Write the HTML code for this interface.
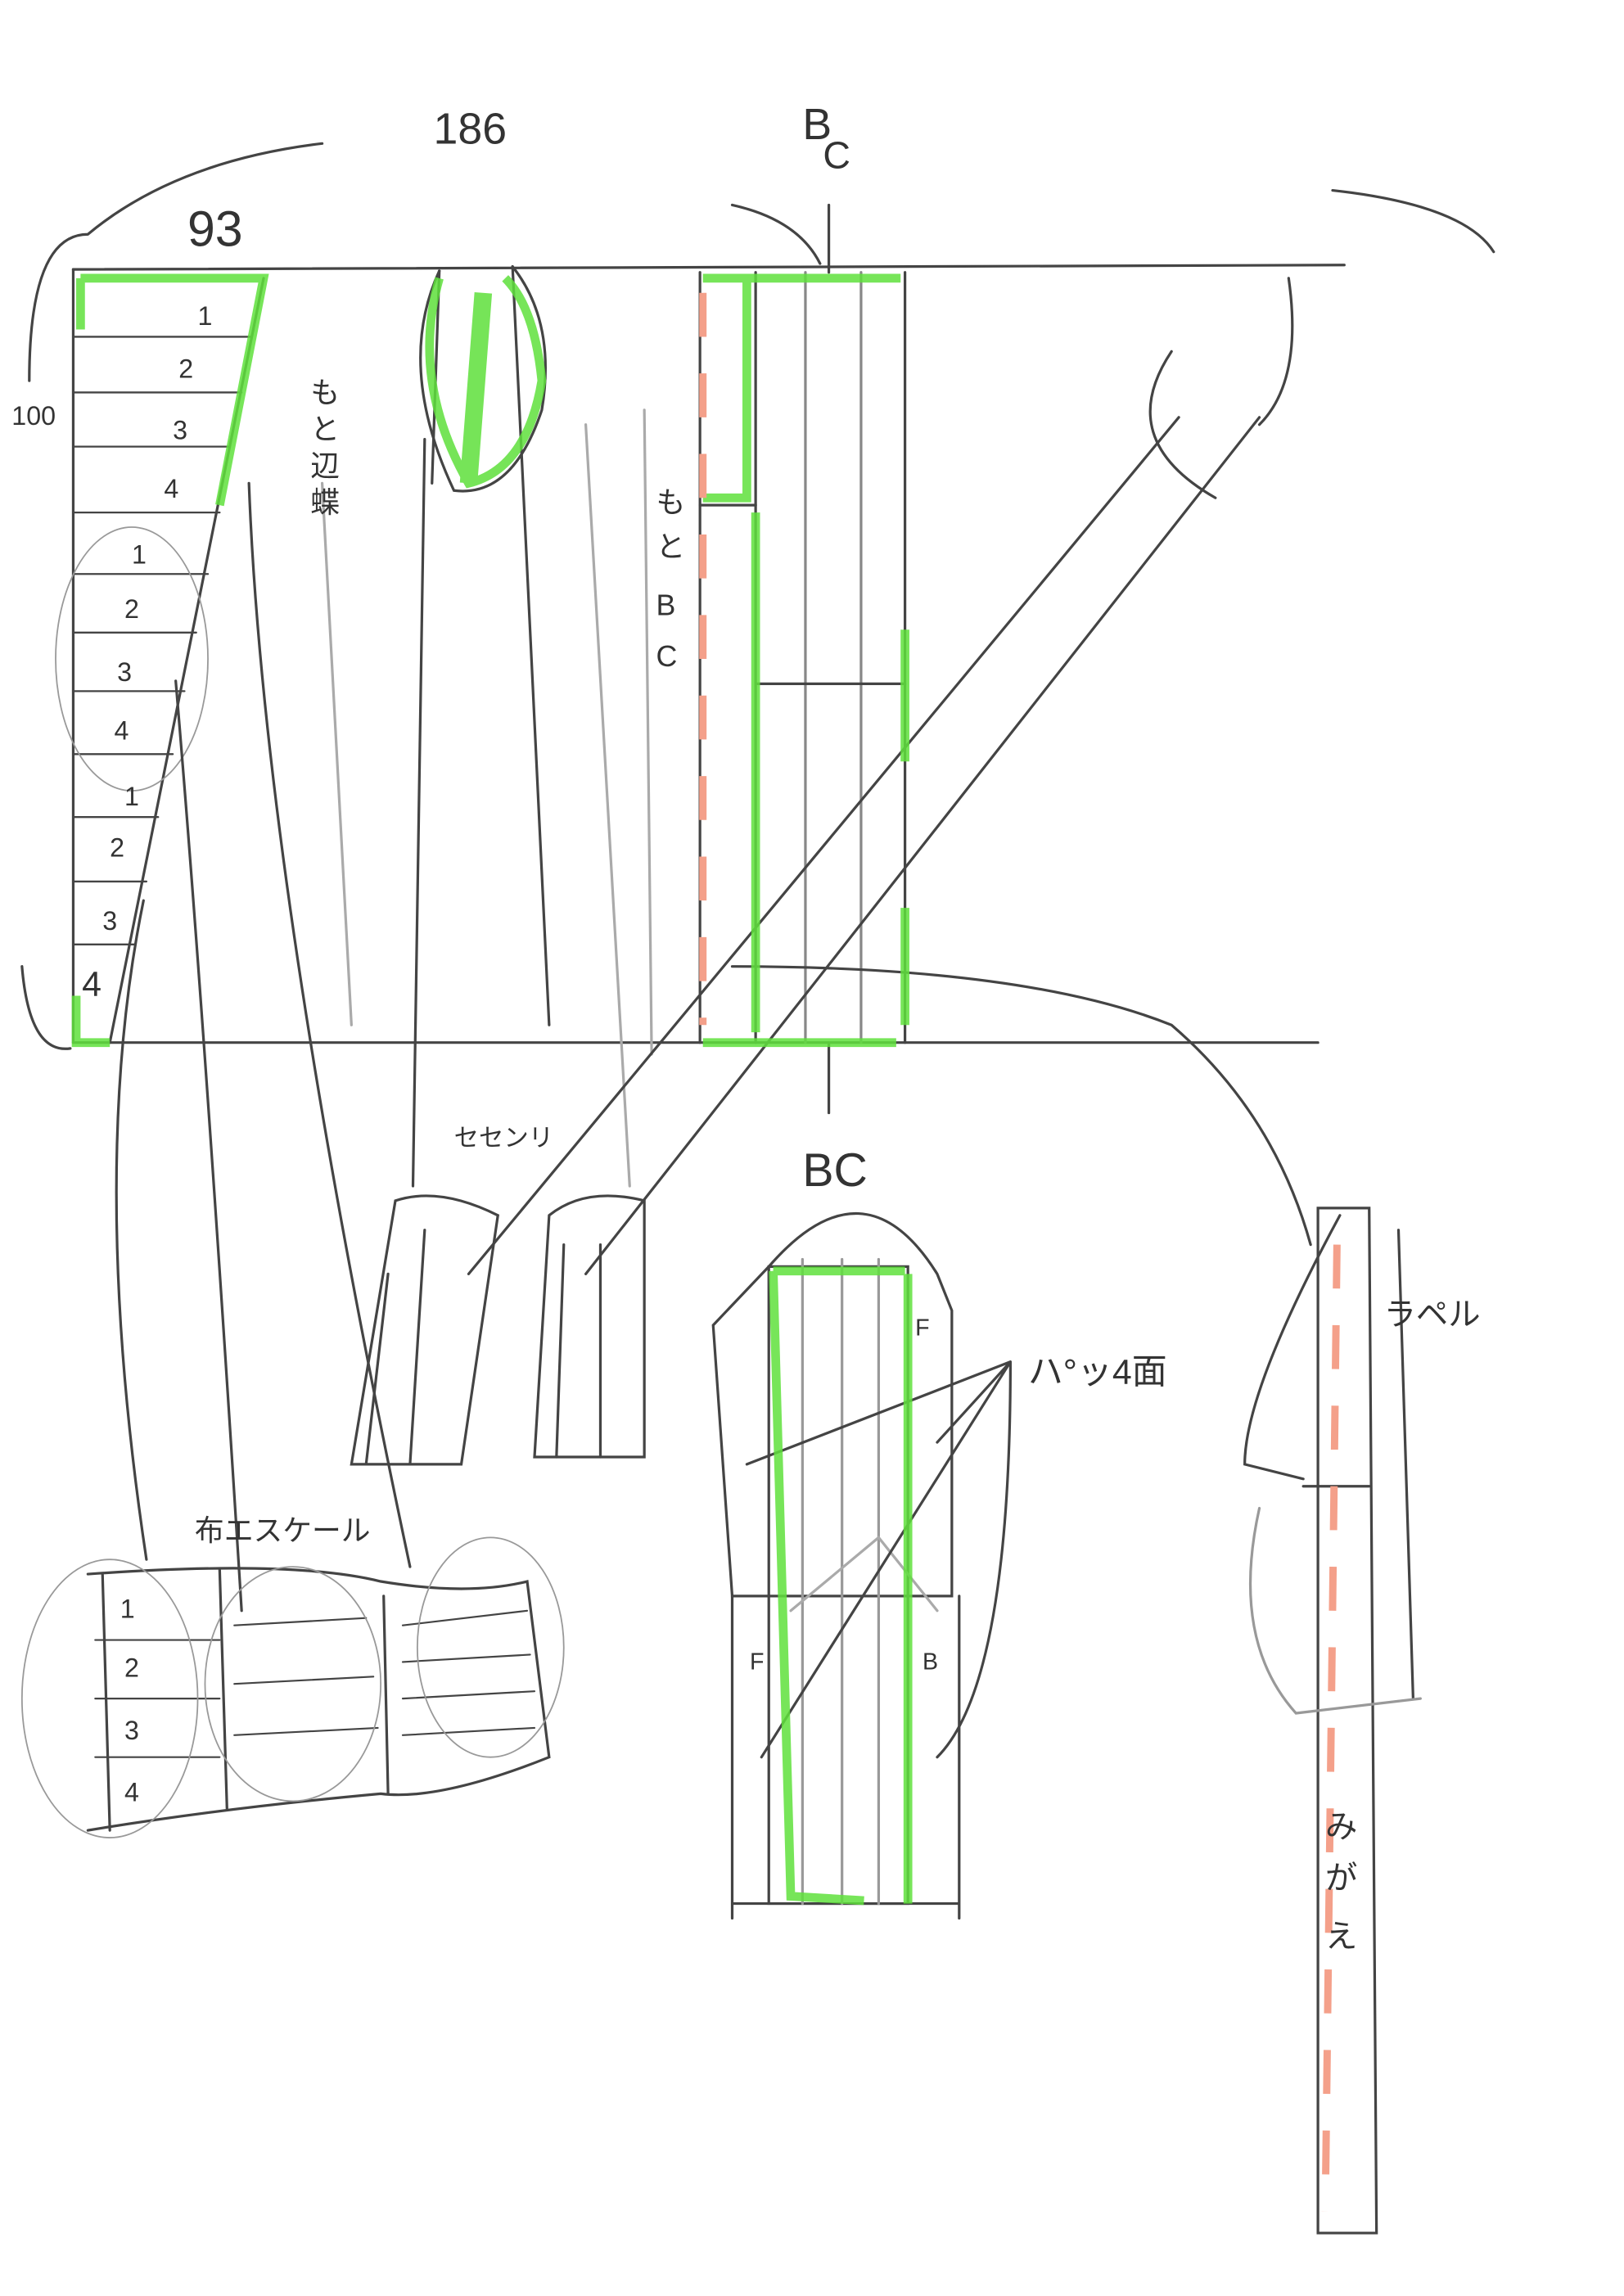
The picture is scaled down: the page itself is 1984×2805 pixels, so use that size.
<!DOCTYPE html>
<html><head><meta charset="utf-8"><style>
html,body{margin:0;padding:0;background:#fff;}
svg{display:block;}
text{font-family:"Liberation Sans","Noto Sans CJK JP",sans-serif;fill:#333;}
</style></head><body>
<svg width="1984" height="2805" viewBox="0 0 1109 1568" preserveAspectRatio="none" xmlns="http://www.w3.org/2000/svg">
<rect width="1109" height="1568" fill="#fff"/>
<g stroke="#444" stroke-width="1.8" fill="none" stroke-linecap="round">
<!-- main frame -->
<line x1="50" y1="184" x2="918" y2="181"/>
<line x1="50" y1="712" x2="900" y2="712"/>
<line x1="50" y1="184" x2="50" y2="712"/>
<path d="M20 260 Q20 160 60 160 Q120 110 220 98"/>
<path d="M15 660 Q20 720 48 716"/>
<path d="M910 130 Q1000 140 1020 172"/>
<!-- left ruler -->
<path d="M180 190 L75 712"/>
<g stroke-width="1.3">
<line x1="50" y1="230" x2="172" y2="230"/><line x1="50" y1="268" x2="165" y2="268"/>
<line x1="50" y1="305" x2="157" y2="305"/><line x1="50" y1="350" x2="150" y2="350"/>
<line x1="50" y1="392" x2="142" y2="392"/><line x1="50" y1="432" x2="134" y2="432"/>
<line x1="50" y1="472" x2="126" y2="472"/><line x1="50" y1="515" x2="118" y2="515"/>
<line x1="50" y1="558" x2="108" y2="558"/><line x1="50" y1="602" x2="100" y2="602"/>
<line x1="50" y1="645" x2="92" y2="645"/>
</g>
<ellipse cx="90" cy="450" rx="52" ry="90" stroke="#999" stroke-width="1"/>
<!-- leaf shape -->
<path d="M300 185 Q270 250 310 335 Q350 340 370 280 Q380 220 350 182" />
<path d="M300 185 L295 330 M350 182 L375 700"/>
<line x1="290" y1="300" x2="282" y2="810"/>
<line x1="400" y1="290" x2="430" y2="810" stroke="#aaa"/>
<line x1="440" y1="280" x2="445" y2="720" stroke="#aaa"/>
<line x1="220" y1="330" x2="240" y2="700" stroke="#aaa"/>
<!-- BC column -->
<line x1="478" y1="186" x2="478" y2="712"/>
<line x1="516" y1="186" x2="516" y2="712"/>
<line x1="550" y1="186" x2="550" y2="712" stroke="#888"/>
<line x1="588" y1="186" x2="588" y2="712" stroke="#888"/>
<line x1="618" y1="186" x2="618" y2="712"/>
<line x1="516" y1="467" x2="618" y2="467"/>
<line x1="478" y1="345" x2="516" y2="345"/>
<line x1="566" y1="140" x2="566" y2="186"/>
<path d="M500 140 Q545 150 560 180"/>
<line x1="566" y1="712" x2="566" y2="760"/>
<!-- diagonal arrows -->
<path d="M320 870 L805 285"/><path d="M400 870 L860 285"/>
<path d="M800 240 Q760 300 830 340 M880 190 Q890 260 860 290"/>
<path d="M500 660 Q700 660 800 700 Q870 760 895 850"/>
<path d="M100 1065 Q60 800 98 615"/>
<path d="M165 1100 Q140 700 120 465"/>
<path d="M280 1070 Q180 600 170 330"/>
<!-- pieces -->
<path d="M240 1000 L270 820 Q300 810 340 830 L315 1000 Z"/>
<path d="M265 870 L250 1000 M290 840 L280 1000"/>
<path d="M365 995 L375 830 Q400 810 440 820 L440 995 Z"/>
<path d="M385 850 L380 995 M410 850 L410 995"/>
<!-- sleeve -->
<path d="M525 865 L620 865 L620 1300 L525 1300 Z"/>
<path d="M487 905 L525 865 Q590 790 640 870 L650 895 L650 1090 L500 1090 Z"/>
<path d="M500 1090 L500 1310 M655 1090 L655 1310 M500 1300 L655 1300"/>
<line x1="548" y1="860" x2="548" y2="1300" stroke="#999"/>
<line x1="575" y1="860" x2="575" y2="1300" stroke="#999"/>
<line x1="600" y1="860" x2="600" y2="1300" stroke="#999"/>
<path d="M540 1100 L600 1050 L640 1100" stroke="#aaa"/>
<path d="M510 1000 L690 930 M640 985 L690 930 M520 1200 L690 930 M640 1200 Q690 1150 690 930"/>
<!-- facing strip -->
<path d="M900 825 L900 1525 L940 1525 L935 825 Z"/>
<path d="M915 830 Q850 950 850 1000 L890 1010"/>
<line x1="955" y1="840" x2="965" y2="1160"/>
<path d="M860 1030 Q840 1120 885 1170 L970 1160" stroke="#999"/>
<line x1="890" y1="1015" x2="935" y2="1015"/>
<!-- bottom table -->
<path d="M60 1075 Q200 1065 260 1080 Q320 1090 360 1080 L375 1200 Q300 1230 260 1225 Q150 1235 60 1250"/>
<line x1="70" y1="1075" x2="75" y2="1250"/>
<line x1="150" y1="1072" x2="155" y2="1235"/>
<line x1="262" y1="1090" x2="265" y2="1225"/>
<g stroke-width="1.2">
<line x1="65" y1="1120" x2="150" y2="1120"/><line x1="65" y1="1160" x2="150" y2="1160"/><line x1="65" y1="1200" x2="150" y2="1200"/>
<line x1="160" y1="1110" x2="250" y2="1105"/><line x1="160" y1="1150" x2="255" y2="1145"/><line x1="160" y1="1185" x2="258" y2="1180"/>
<line x1="275" y1="1110" x2="360" y2="1100"/><line x1="275" y1="1135" x2="362" y2="1130"/><line x1="275" y1="1160" x2="365" y2="1155"/><line x1="275" y1="1185" x2="365" y2="1180"/>
</g>
<ellipse cx="75" cy="1160" rx="60" ry="95" stroke="#999" stroke-width="1"/>
<ellipse cx="200" cy="1150" rx="60" ry="80" stroke="#999" stroke-width="1"/>
<ellipse cx="335" cy="1125" rx="50" ry="75" stroke="#999" stroke-width="1"/>
</g>
<!-- green highlights -->
<g stroke="#5fe03c" stroke-width="6" fill="none" opacity="0.85">
<path d="M55 190 L180 190 L150 345 M55 190 L55 225"/>
<path d="M52 680 L52 712 L75 712"/>
<path d="M330 200 L320 330" stroke-width="12"/>
<path d="M300 190 Q280 260 320 330 Q360 320 370 260 Q365 210 345 190"/>
<path d="M480 190 L615 190 M510 190 L510 340 L480 340 M516 350 L516 705 M480 712 L612 712 M618 430 L618 520 M618 620 L618 700"/>
<path d="M528 868 L618 868 M528 868 L540 1295 L590 1298 M620 870 L620 1300"/>
</g>
<g stroke="#f4a08a" stroke-width="5" fill="none" stroke-dasharray="30 25">
<line x1="480" y1="200" x2="480" y2="700"/>
<line x1="913" y1="850" x2="905" y2="1510"/>
</g>
<!-- labels -->
<g font-size="26">
<text x="128" y="168" font-size="34">93</text>
<text x="296" y="98" font-size="30">186</text>
<text x="548" y="95" font-size="30">B</text><text x="562" y="115" font-size="26">C</text>
<text x="8" y="290" font-size="18">100</text>
<text x="548" y="810" font-size="32">BC</text>
<text x="133" y="1052" font-size="20">布エスケール</text>
<text x="310" y="783" font-size="17">セセンリ</text>
<text x="702" y="945" font-size="24">ハ°ッ4面</text>
<text x="945" y="905" font-size="22">ラペル</text>
<text x="212" y="275" font-size="20">も</text><text x="212" y="300" font-size="20">と</text><text x="212" y="325" font-size="20">辺</text><text x="212" y="350" font-size="20">蝶</text>
<text x="448" y="350" font-size="20">も</text><text x="448" y="380" font-size="20">と</text><text x="448" y="420" font-size="20">B</text><text x="448" y="455" font-size="20">C</text>
<text x="905" y="1255" font-size="22">み</text><text x="905" y="1290" font-size="22">が</text><text x="905" y="1330" font-size="22">え</text>
<text x="625" y="912" font-size="16">F</text><text x="512" y="1140" font-size="16">F</text><text x="630" y="1140" font-size="16">B</text>
</g>
<g font-size="18">
<text x="135" y="222">1</text><text x="122" y="258">2</text><text x="118" y="300">3</text><text x="112" y="340">4</text>
<text x="90" y="385">1</text><text x="85" y="422">2</text><text x="80" y="465">3</text><text x="78" y="505">4</text>
<text x="85" y="550">1</text><text x="75" y="585">2</text><text x="70" y="635">3</text><text x="56" y="680" font-size="24">4</text>
<text x="82" y="1105">1</text><text x="85" y="1145">2</text><text x="85" y="1188">3</text><text x="85" y="1230">4</text>
</g>
</svg>
</body></html>
